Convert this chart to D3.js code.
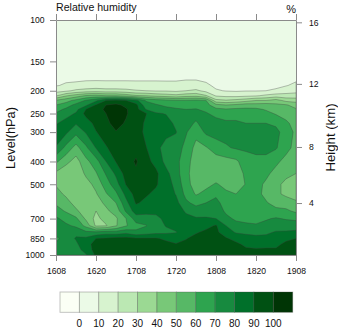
<!DOCTYPE html>
<html><head><meta charset="utf-8">
<style>html,body{margin:0;padding:0;background:#fff}svg{display:block}text{font-family:"Liberation Sans",Arial,sans-serif;fill:#111}</style>
<script src="https://cdn.jsdelivr.net/npm/d3@7"></script></head><body>
<svg id="c" width="338" height="329"></svg>
<script>
const timeTicks=[0,12,24,36,48,60,72];
const timeLabels=["1608","1620","1708","1720","1808","1820","1908"];
const hours=[0,3,6,9,12,15,18,21,24,27,30,33,36,39,42,45,48,51,54,57,60,63,66,69,72];
const levels=[100,150,180,190,200,210,220,230,240,250,275,300,350,400,450,500,550,600,650,700,750,800,850,900,950,1000];
const levelTicks=[100,150,200,250,300,400,500,700,850,1000];
const heightTicks=[16,12,8,4];
const heightPressure=[102.3,187,347,601];
const thresholds=[10,20,30,40,50,60,70,80,90,100];
const legendLabels=["0","10","20","30","40","50","60","70","80","90","100"];
const colors=["#fbfff5","#ebfae7","#d7f3cf","#bbe8b3","#9bd993","#78c878","#57b866","#2ea44f","#178a3f","#00702a","#005113","#003505"];
const rhByTime=[
[3,5,8.5,9.5,16,29,51,60,66,71,79,84,79.5,62,48,49,54,58.5,64,72,75,74,68,71,74,75],
[3,5.5,9,11,18,39,56,65,72,76,84,82,67,53,43,44,48,54,59,66,72,74,74,75,76,77],
[3,6,9,12,22,45,63,73,77,81,81,73,56,46,42,41,43,46,52,62,68,77,81,78,76,74],
[3,6,9.5,13,24,51,71,78,90,93,85,81,68,57,52,46,43,42,44,48,57,72,82,87,84,79],
[3,6,9.5,14,25,53,78,91,93,95,93,89.5,80.5,66,59,53,49,46,40,37,38,72,90,93,94,92],
[3,6,9.5,13,24,50,90,100,103,100,98,95,89,80,71,65,59,52,48,44,39,75,91,94,95,93],
[3,6,9.5,13,24,50,93,102,105,106,103,99.5,95,90.5,82,76,68,60,54,48.5,49,74,93,96,97,95],
[3,6,9.5,13,23,46,90,98,101,101,99,97,97,96,94,90.5,83,77,71.5,60,59,77,93,96,97,96],
[3,6,9.5,12.5,21,41,83,93,94,95,96,96,97,101,98.5,96,94,91,85,75,66.5,72,91,95,97,96],
[3,6,9.5,12.5,20,40,69,74,79.5,90.5,88,87,90.5,93,94,93,91,88,83,76,69.5,75,91,95,97,96],
[3,6,9.5,12.5,19,37,65,71,76,81,84,84,83,87,92,91,88,85,82,78,76,77,91,94,96,95],
[3,6,9.5,12,19,35,63,68,73,79.5,84,83,76,77,83,85,85,84,83,82,80.5,78,88,93,95,95],
[3,6,9.5,12,18,33,61,67,71,73,78,80.5,75,73,74,77,79.5,83,84,84,83,79.5,86,90.5,94,94],
[3,6,10,12.5,20,36,61,65,70,72,73,71,67,64,63,64,67,72,79,82,84,86,89.5,92,94,94],
[3,6,10,13,22,37,62,66,70.5,73,69,63,57,55,54,55,59,67,75,81,85,89,93,95,96,95],
[3,6,8.5,12,17,31,60.5,64,68,71,74,72,59,55,54,57,63,70,76,81,87,92,95,96,96,95],
[3,5.5,7,8,11,19,33,53,62.5,67,74,74,65,55,54,61,68,73,77,80,91,92,93,94,94,93],
[3,5,7,8,9.5,17.5,31,50,61,65,72,73,69,56,53,57,62,65.5,68,73,80,85,91,92,92,91],
[3,5,7,8,9,17,33,52,62,65,72,75,71,58,55,56,60,63,65,68,74,79,87,92,93,93],
[3,5,7,8,9.5,18,36,55,62,65,70,74,71.5,66,62,60.5,61,62,64,67,72,78,84,88,91.5,91],
[3,5,7,8,9.5,19,40,54,62,64,70,75,73,67,64,63,63,64,65,67,71,77,83,87,91,91],
[3,5,7,8,10,22,40,55,59,63,70,76,74,66,62,58.5,57.5,61,65,69,73,78,83,88,91,91],
[3,5,7,8.5,11,25,44,52,55,59,68,73,71,62,57,53,52,56,63,71,75,81,85,88,91,91],
[3,5,8,9.5,15,24,37,51,54,56,62,65,63,57,53,47,48,55,62,69,76,81,88,92,93,93],
[3,5.5,9,12,17,24,36,46,51,53,56,58,57,54,50,44,45,52,58,68,75,82,90,93,94,94]
];

const svg=d3.select("#c");
const x=d3.scaleLinear().domain([0,72]).range([56,296]);
const y=d3.scaleLog().domain([100,1000]).range([20,255]);
const colToX=d3.scaleLinear().domain(hours.map((_,i)=>i)).range(hours.map(x)).clamp(true);
const rowToY=d3.scaleLinear().domain(levels.map((_,i)=>i)).range(levels.map(p=>y(p))).clamp(true);

const nx=hours.length, ny=levels.length;
const flat=[];
for(let r=0;r<ny;r++)for(let c=0;c<nx;c++)flat.push(rhByTime[c][r]);
const contours=d3.contours().size([nx,ny]).smooth(true).thresholds(thresholds)(flat);

const toPath=g=>g.coordinates.map(poly=>poly.map(ring=>
  "M"+ring.map(p=>colToX(p[0]-0.5).toFixed(2)+","+rowToY(p[1]-0.5).toFixed(2)).join("L")+"Z").join("")).join("");

const clip=svg.append("defs").append("clipPath").attr("id","plot");
clip.append("rect").attr("x",56).attr("y",20).attr("width",240).attr("height",235);
const plot=svg.append("g").attr("clip-path","url(#plot)");
plot.append("rect").attr("x",56).attr("y",20).attr("width",240).attr("height",235).attr("fill",colors[1]);
plot.selectAll("path").data(contours).join("path")
  .attr("d",toPath)
  .attr("fill",(d,i)=>colors[i+2])
  .attr("fill-rule","evenodd")
  .attr("stroke","#3c3c3c").attr("stroke-opacity",0.42).attr("stroke-width",0.8);

const frame="#8a8a8a";
function styleAxis(g){g.select(".domain").attr("stroke",frame).attr("stroke-width",1);
  g.selectAll(".tick line").attr("stroke",frame).attr("stroke-width",1);
  g.selectAll("text").style("font-size","8.6px").attr("fill","#111");}
svg.append("g").attr("transform","translate(0,255)")
  .call(d3.axisBottom(x).tickValues(timeTicks).tickFormat((d,i)=>timeLabels[i]).tickSize(6).tickPadding(7).tickSizeOuter(0)).call(styleAxis);
svg.append("g").attr("transform","translate(0,20)")
  .call(d3.axisTop(x).tickValues(timeTicks).tickFormat("").tickSize(6).tickSizeOuter(0)).call(styleAxis);
svg.append("g").attr("transform","translate(56,0)")
  .call(d3.axisLeft(y).tickValues(levelTicks).tickFormat(d3.format("d")).tickSize(6).tickPadding(5.5).tickSizeOuter(0)).call(styleAxis);
svg.append("g").attr("transform","translate(296,0)")
  .call(d3.axisRight(y).tickValues(heightPressure).tickFormat((d,i)=>heightTicks[i]).tickSize(6).tickPadding(7).tickSizeOuter(0)).call(styleAxis);

svg.append("text").attr("x",56).attr("y",10.5).style("font-size","10.6px").text("Relative humidity");
svg.append("text").attr("x",296).attr("y",13).attr("text-anchor","end").style("font-size","11px").text("%");
svg.append("text").attr("transform","translate(15,138) rotate(-90)").attr("text-anchor","middle").style("font-size","12.8px").text("Level(hPa)");
svg.append("text").attr("transform","translate(334.5,137.5) rotate(-90)").attr("text-anchor","middle").style("font-size","13.2px").text("Height (km)");

const lx=d3.scaleLinear().domain([0,12]).range([60,292.7]);
const lg=svg.append("g");
lg.selectAll("rect").data(colors).join("rect")
  .attr("x",(d,i)=>lx(i)).attr("y",292).attr("width",(d,i)=>lx(i+1)-lx(i)).attr("height",20.3)
  .attr("fill",d=>d).attr("stroke","#444").attr("stroke-opacity",0.35).attr("stroke-width",0.9);
lg.selectAll("text").data(legendLabels).join("text")
  .attr("x",(d,i)=>lx(i+1)).attr("y",326.5).attr("text-anchor","middle").style("font-size","10px").text(d=>d);
</script></body></html>
